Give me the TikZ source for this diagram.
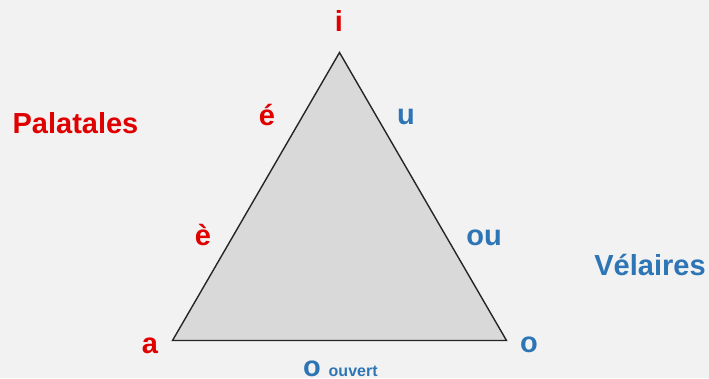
\documentclass[tikz,border=0pt]{standalone}
\usepackage{fontspec}
\setmainfont{Liberation Sans}
\definecolor{bg}{HTML}{F2F2F2}
\definecolor{tri}{HTML}{D9D9D9}
\definecolor{vred}{HTML}{E00000}
\definecolor{vblue}{HTML}{2E75B6}
\tikzset{
  lbl/.style={inner sep=0pt, anchor=base, font=\bfseries\fontsize{29}{29}\selectfont},
  pal/.style={lbl, text=vred},
  vel/.style={lbl, text=vblue},
  small/.style={inner sep=0pt, anchor=base west, font=\bfseries\fontsize{16}{16}\selectfont, text=vblue}
}
\begin{document}
\begin{tikzpicture}[x=1pt,y=-1pt]
\fill[bg] (0,0) rectangle (709,378);
\useasboundingbox (0,0) rectangle (709,378);
\coordinate (I) at (339.5,52.5);
\coordinate (A) at (172.5,340.5);
\coordinate (O) at (506.5,340.5);
\filldraw[fill=tri, draw=black!85, line width=1.4pt, line join=miter] (I) -- (A) -- (O) -- cycle;
\node[pal] (ti) at (339,31) {i};
\node[pal] (te) at (267,125) {é};
\node[pal] (tee) at (203,245) {è};
\node[pal] (ta) at (150,353) {a};
\node[pal] (tpal) at (75.5,133) {Palatales};
\node[vel] (tu) at (406,124) {u};
\node[vel] (tou) at (484,245) {ou};
\node[vel] (to) at (529,352) {o};
\node[vel] (tvel) at (650,275) {Vélaires};
\node[vel, anchor=base west] (tob) at (303,376) {o};
\node[small] (touv) at (328.5,376) {ouvert};
\end{tikzpicture}
\end{document}
